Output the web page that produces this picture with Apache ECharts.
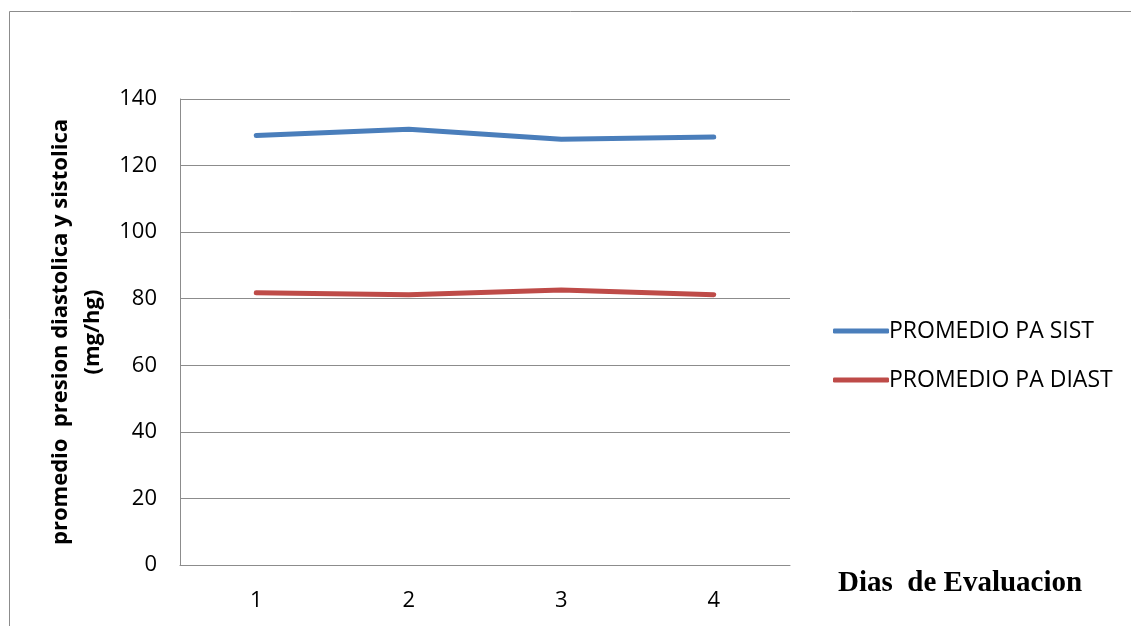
<!DOCTYPE html>
<html>
<head>
<meta charset="utf-8">
<script src="https://cdn.jsdelivr.net/npm/echarts@6/dist/echarts.min.js"></script>
<style>
html,body{margin:0;padding:0;background:#fff;}
#c{width:1131px;height:626px;}
</style>
</head>
<body>
<div id="c"></div>
<script>
var categories = ['1', '2', '3', '4'];
var sistValues = [129.0, 130.9, 127.9, 128.6];
var diastValues = [81.8, 81.2, 82.6, 81.2];
var seriesNames = ['PROMEDIO PA SIST', 'PROMEDIO PA DIAST'];
var yTitle = 'promedio  presion diastolica y sistolica\n(mg/hg)';
var xTitle = 'Dias  de Evaluacion';

var chart = echarts.init(document.getElementById('c'));
var axisGray = '#8c8c8c';
var labelFont = '"Open Sans", "Liberation Sans", sans-serif';
chart.setOption({
  animation: false,
  backgroundColor: '#fff',
  grid: {left: 180, right: 341, top: 99, bottom: 61, containLabel: false},
  graphic: [
    {type: 'rect', shape: {x: 9.5, y: 11.5, width: 1140, height: 640}, style: {fill: 'none', stroke: '#8c8c8c', lineWidth: 1}, silent: true},
    {type: 'text', x: 838, y: 584, style: {text: xTitle, font: 'bold 29px "Liberation Serif", "Times New Roman", serif', fill: '#000', verticalAlign: 'middle'}}
  ],
  legend: {
    orient: 'vertical',
    left: 828,
    top: 312,
    icon: 'roundRect',
    itemWidth: 56,
    itemHeight: 5,
    itemGap: 21,
    textStyle: {fontSize: 23, fontFamily: labelFont, color: '#000', padding: [0, 0, 0, -5], lineHeight: 28},
    data: seriesNames
  },
  xAxis: {
    type: 'category',
    data: categories,
    boundaryGap: true,
    axisLine: {lineStyle: {color: axisGray, width: 1}},
    axisTick: {show: false},
    axisLabel: {fontSize: 22, fontFamily: labelFont, color: '#000', margin: 25}
  },
  yAxis: {
    type: 'value',
    min: 0, max: 140, interval: 20,
    name: yTitle,
    nameLocation: 'middle',
    nameRotate: 90,
    nameGap: 67,
    nameTextStyle: {fontSize: 22, fontWeight: 'bold', fontFamily: labelFont, color: '#000', lineHeight: 32, align: 'center'},
    axisLine: {show: true, lineStyle: {color: axisGray, width: 1}},
    axisTick: {show: false},
    splitLine: {lineStyle: {color: axisGray, width: 1}},
    axisLabel: {fontSize: 22, fontFamily: labelFont, color: '#000', margin: 23}
  },
  series: [
    {name: seriesNames[0], type: 'line', data: sistValues, symbol: 'none', lineStyle: {color: '#4a7ebb', width: 5, cap: 'round', join: 'round'}, itemStyle: {color: '#4a7ebb'}},
    {name: seriesNames[1], type: 'line', data: diastValues, symbol: 'none', lineStyle: {color: '#be4b48', width: 5, cap: 'round', join: 'round'}, itemStyle: {color: '#be4b48'}}
  ]
});
</script>
</body>
</html>
